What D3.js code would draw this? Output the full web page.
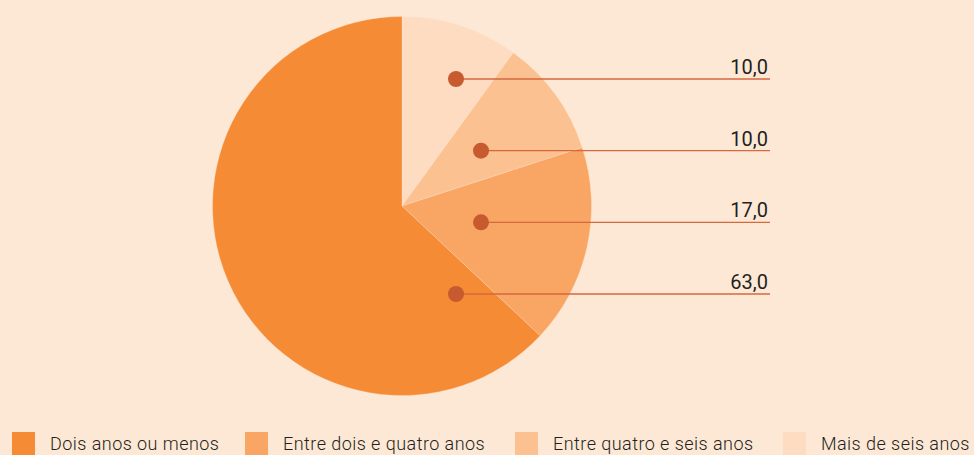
<!DOCTYPE html>
<html>
<head>
<meta charset="utf-8">
<script src="https://cdn.jsdelivr.net/npm/d3@7"></script>
<style>
  html, body { margin: 0; padding: 0; background: #fde8d6; }
  svg { display: block; }
  text { font-family: Roboto, "Noto Sans", sans-serif; fill: #231f20; }
</style>
</head>
<body>
<div id="chart"></div>
<script>
'use strict';

// chart data
var categories = ['Dois anos ou menos', 'Entre dois e quatro anos', 'Entre quatro e seis anos', 'Mais de seis anos'];
var values     = [63.0, 17.0, 10.0, 10.0];
var colors     = ['#f68b35', '#f9a563', '#fcc191', '#fedcc1'];

var width  = 974,
    height = 455,
    cx     = 402,
    cy     = 206,
    radius = 189.5;

var svg = d3.select('#chart').append('svg')
    .attr('width', width)
    .attr('height', height);

var rows = categories.map(function(c, i) {
    return { name: c, value: values[i], color: colors[i], index: i };
});

// clockwise from 12 o'clock the last category comes first
var pie = d3.pie()
    .sort(null)
    .value(function(d) { return d.value; });

var arc = d3.arc()
    .innerRadius(0)
    .outerRadius(radius);

var g = svg.append('g')
    .attr('transform', 'translate(' + cx + ',' + cy + ')');

g.selectAll('path')
    .data(pie(rows.slice().reverse()))
    .enter().append('path')
    .attr('d', arc)
    .attr('fill', function(d) { return d.data.color; })
    .attr('stroke', '#fde8d6')
    .attr('stroke-opacity', 0.5)
    .attr('stroke-width', 0.6);

// labels: one row per slice, top to bottom
var labelY = d3.scalePoint()
    .domain(rows.slice().reverse().map(function(d) { return d.name; }))
    .range([79, 294]);

var lineEnd = 770;

var labels = svg.selectAll('.label')
    .data(rows.slice().reverse())
    .enter().append('g')
    .attr('class', 'label');

labels.append('line')
    .attr('x1', function(d, i) { return cx + (i === 0 || i === 3 ? 54 : 79); })
    .attr('x2', lineEnd)
    .attr('y1', function(d) { return labelY(d.name); })
    .attr('y2', function(d) { return labelY(d.name); })
    .attr('stroke', '#d4683f')
    .attr('stroke-width', 1.3);

labels.append('circle')
    .attr('cx', function(d, i) { return cx + (i === 0 || i === 3 ? 54 : 79); })
    .attr('cy', function(d) { return labelY(d.name); })
    .attr('r', 8)
    .attr('fill', '#c85a30');

labels.append('text')
    .attr('x', lineEnd - 2)
    .attr('y', function(d) { return labelY(d.name) - 5; })
    .attr('text-anchor', 'end')
    .style('font-size', '20px')
    .text(function(d) { return d3.format('.1f')(d.value).replace('.', ','); });

// legend
var legendX = [12, 245, 515, 783];

var legend = svg.selectAll('.legend')
    .data(rows)
    .enter().append('g')
    .attr('class', 'legend')
    .attr('transform', function(d, i) { return 'translate(' + legendX[i] + ',432)'; });

legend.append('rect')
    .attr('width', 23)
    .attr('height', 25)
    .attr('fill', function(d) { return d.color; });

legend.append('text')
    .attr('x', 38)
    .attr('y', 18)
    .style('font-size', '18px')
    .style('font-weight', 300)
    .style('letter-spacing', '0.45px')
    .text(function(d) { return d.name; });
</script>
</body>
</html>
